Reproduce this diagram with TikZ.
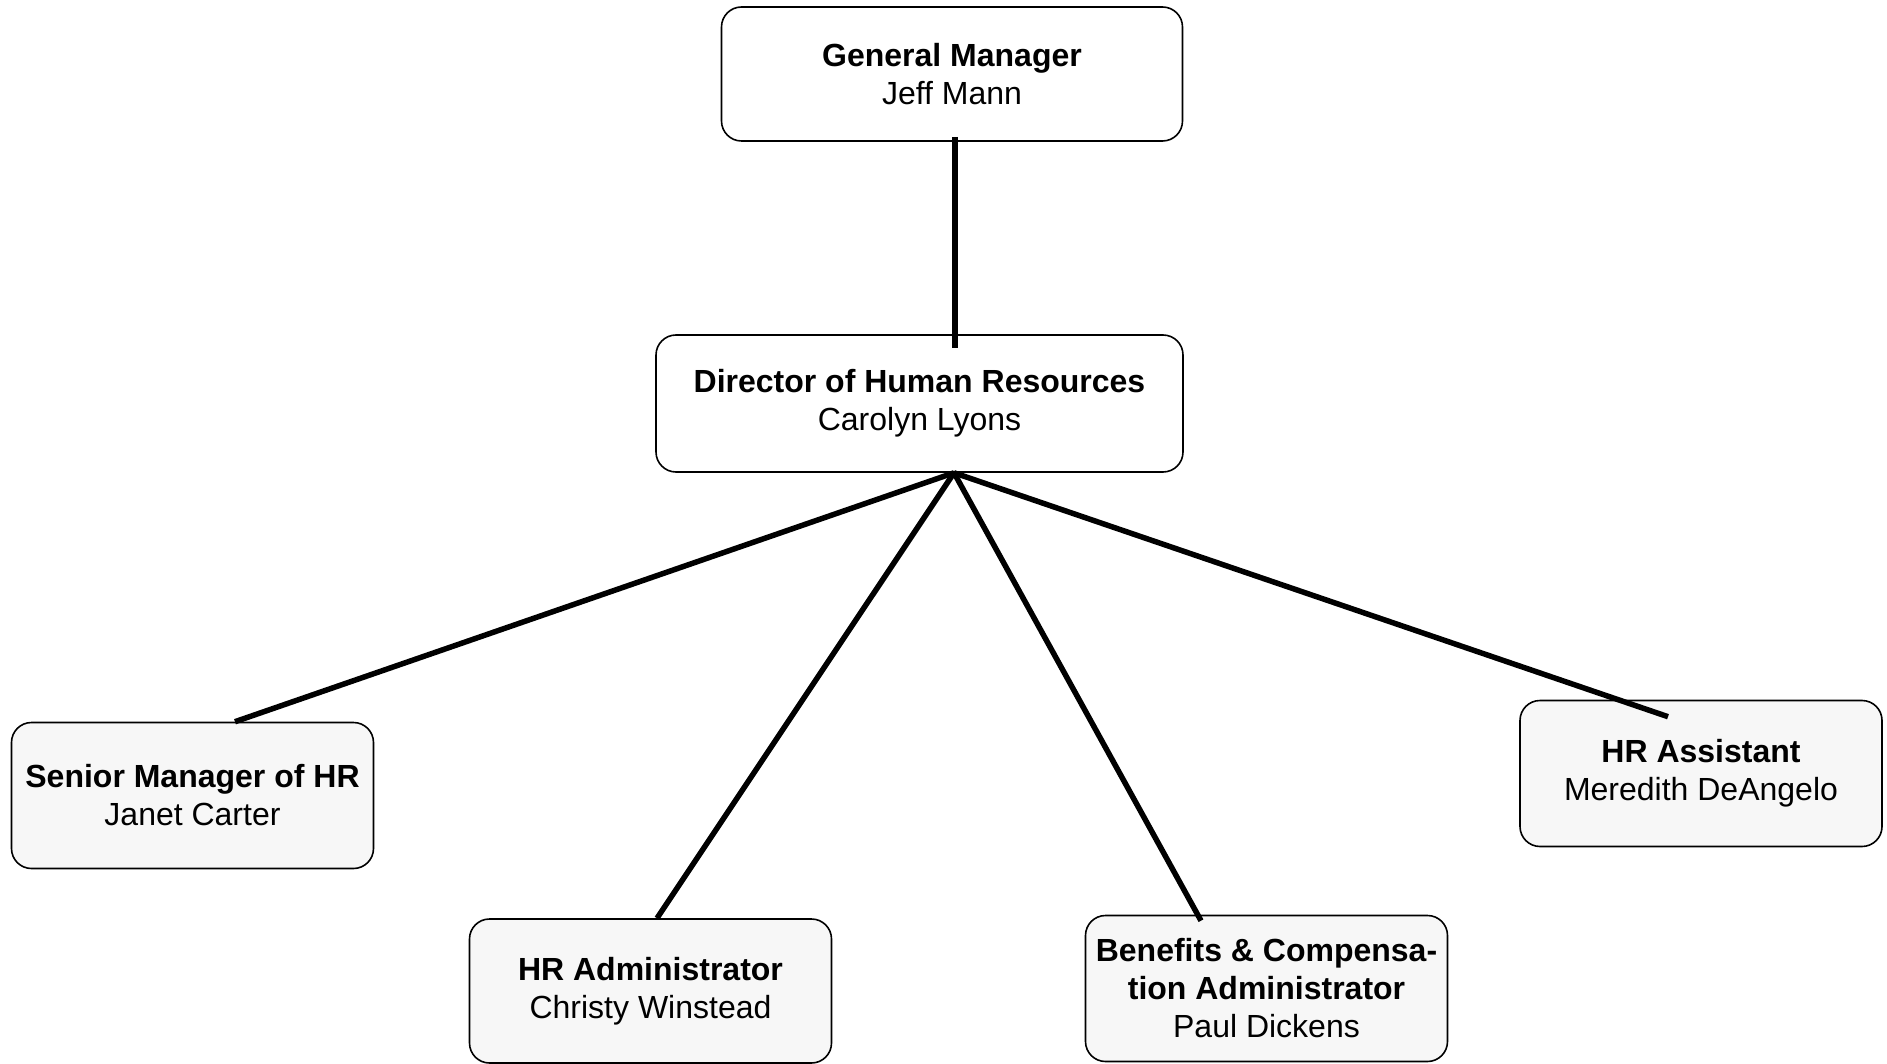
\documentclass[tikz,border=0pt]{standalone}
\usepackage{fontspec}
\setmainfont{Liberation Sans}
\usepackage{tikz}
\usetikzlibrary{positioning}
\definecolor{boxgray}{HTML}{F7F7F7}
\tikzset{
  org/.style={x=1pt, y=-1pt, font=\fontsize{32}{38}\selectfont},
  o box/.style={draw, line width=1.6pt, rounded corners=20pt, align=center, inner sep=0pt},
  o head/.style={o box, fill=white},
  o staff/.style={o box, fill=boxgray, minimum width=362pt, minimum height=146pt},
  o link/.style={line width=5.5pt},
}
\begin{document}
\begin{tikzpicture}[org]
\useasboundingbox (0, 0) rectangle (1887, 1064);
% ---- top of the chart ----
\node[o head, minimum width=461pt, minimum height=134pt] (gm) at (952, 74)
  {\textbf{General Manager}\\Jeff Mann};
\node[o head, minimum width=527pt, minimum height=137pt] (dir) at (919.5, 403.5)
  {\textbf{Director of Human Resources}\\Carolyn Lyons};
% ---- HR staff ----
\node[o staff] (sm) at (192.5, 795.5) {\textbf{Senior Manager of HR}\\Janet Carter};
\node[o staff, minimum height=144pt] (ha) at (650.5, 991) {\textbf{HR Administrator}\\Christy Winstead};
\node[o staff] (bc) at (1266.5, 988.5) {\textbf{Benefits \& Compensa-}\\\textbf{tion Administrator}\\Paul Dickens};
\node[o staff] (as) at (1701, 773.5) {\textbf{HR Assistant}\\Meredith DeAngelo};
% ---- reporting lines ----
\coordinate (hub) at ([xshift=34.5pt]dir.south);
\draw[o link] ([xshift=3pt, yshift=5pt]gm.south) -- ([xshift=35.5pt, yshift=-14pt]dir.north);
\draw[o link] (hub) -- ([xshift=42.5pt]sm.north);
\draw[o link] (hub) -- ([xshift=6.5pt]ha.north);
\draw[o link] (hub) -- ([xshift=-65.5pt, yshift=-6pt]bc.north);
\draw[o link] (hub) -- ([xshift=-33pt, yshift=-17pt]as.north);
\end{tikzpicture}
\end{document}
